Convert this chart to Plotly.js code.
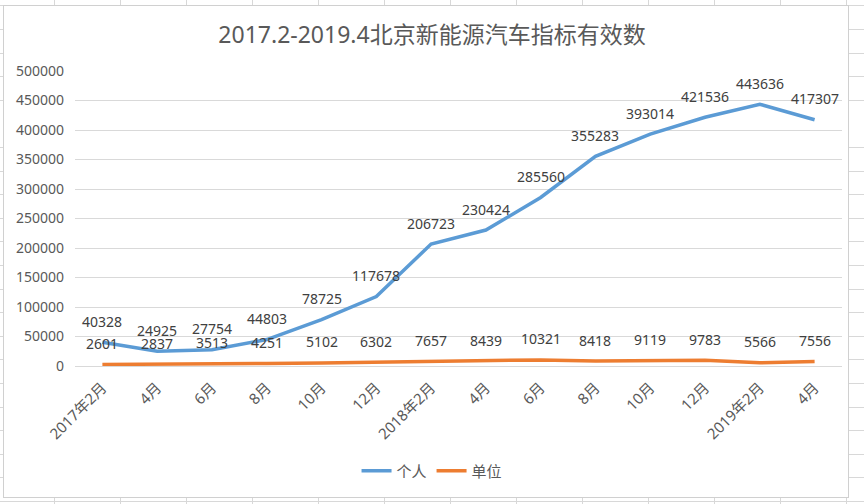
<!DOCTYPE html>
<html>
<head>
<meta charset="utf-8">
<script src="https://cdn.plot.ly/plotly-3.0.1.min.js"></script>
<style>
  html, body { margin: 0; padding: 0; background: #fff; }
  #sheet {
    position: absolute; left: 0; top: 0; width: 864px; height: 504px; overflow: hidden;
    background-image:
      repeating-linear-gradient(to right, transparent 0, transparent 54px, #d8d8d8 54px, #d8d8d8 55px, transparent 55px, transparent 66px),
      repeating-linear-gradient(to bottom, transparent 0, transparent 5.5px, #d8d8d8 5.5px, #d8d8d8 6.5px, transparent 6.5px, transparent 23.6px);
  }
  #box {
    position: absolute; left: 3px; top: 5px; width: 844px; height: 491px;
    background: #fff; border: 1px solid #d0d0d0;
  }
  #chart { position: absolute; left: 0; top: 0; width: 864px; height: 504px; }
</style>
</head>
<body>
<div id="sheet"></div>
<div id="box"></div>
<div id="chart"></div>
<script>
  // categories (x axis)
  const months = ['2017年2月', '4月', '6月', '8月', '10月', '12月',
    '2018年2月', '4月', '6月', '8月', '10月', '12月', '2019年2月', '4月'];
  // 个人
  const personal = [40328, 24925, 27754, 44803, 78725, 117678, 206723,
    230424, 285560, 355283, 393014, 421536, 443636, 417307];
  // 单位
  const unit = [2601, 2837, 3513, 4251, 5102, 6302, 7657,
    8439, 10321, 8418, 9119, 9783, 5566, 7556];

  const idx = months.map((m, i) => i);
  const font = '"Noto Sans", "Noto Sans CJK SC", sans-serif';
  const grey = '#595959';

  const traces = [
    { x: idx, y: personal, type: 'scatter', mode: 'lines', name: '个人',
      line: { color: '#5B9BD5', width: 3.5 } },
    { x: idx, y: unit, type: 'scatter', mode: 'lines', name: '单位',
      line: { color: '#ED7D31', width: 3.5 } }
  ];

  // data labels sit a little above each point, like Excel does
  const labels = [];
  [personal, unit].forEach(series => {
    series.forEach((v, i) => {
      labels.push({
        x: i, y: v, xref: 'x', yref: 'y', text: String(v), showarrow: false,
        yshift: 21, font: { family: font, size: 14, color: '#404040' }
      });
    });
  });

  const layout = {
    width: 864, height: 504,
    paper_bgcolor: 'rgba(0,0,0,0)',
    plot_bgcolor: 'rgba(0,0,0,0)',
    margin: { l: 75, r: 22, t: 71, b: 138, autoexpand: false },
    font: { family: font, color: grey, size: 13 },
    title: {
      text: '2017.2-2019.4北京新能源汽车指标有效数',
      font: { family: font, size: 23, color: grey },
      x: 0.5, xanchor: 'center', xref: 'container', y: 1 - 35 / 504, yanchor: 'middle'
    },
    xaxis: {
      range: [-0.5, months.length - 0.5],
      tickmode: 'array', tickvals: idx, ticktext: months,
      tickangle: -45, showgrid: false, zeroline: false,
      showline: true, linecolor: '#d9d9d9', linewidth: 1,
      ticks: '', ticklabelstandoff: 6, automargin: false,
      tickfont: { size: 15, color: grey }, fixedrange: true
    },
    yaxis: {
      range: [0, 500000], dtick: 50000, tickformat: 'd',
      showgrid: true, gridcolor: '#d9d9d9', gridwidth: 1,
      zeroline: false, showline: false, ticks: '',
      ticklabelstandoff: 10, automargin: false,
      tickfont: { size: 14, color: grey }, fixedrange: true
    },
    showlegend: true,
    legend: {
      orientation: 'h', x: 0.4655, xanchor: 'center',
      y: -0.356, yanchor: 'middle',
      font: { size: 15, color: grey }, bgcolor: 'rgba(0,0,0,0)'
    },
    annotations: labels
  };

  Plotly.newPlot('chart', traces, layout, { displayModeBar: false, staticPlot: true });
</script>
</body>
</html>
